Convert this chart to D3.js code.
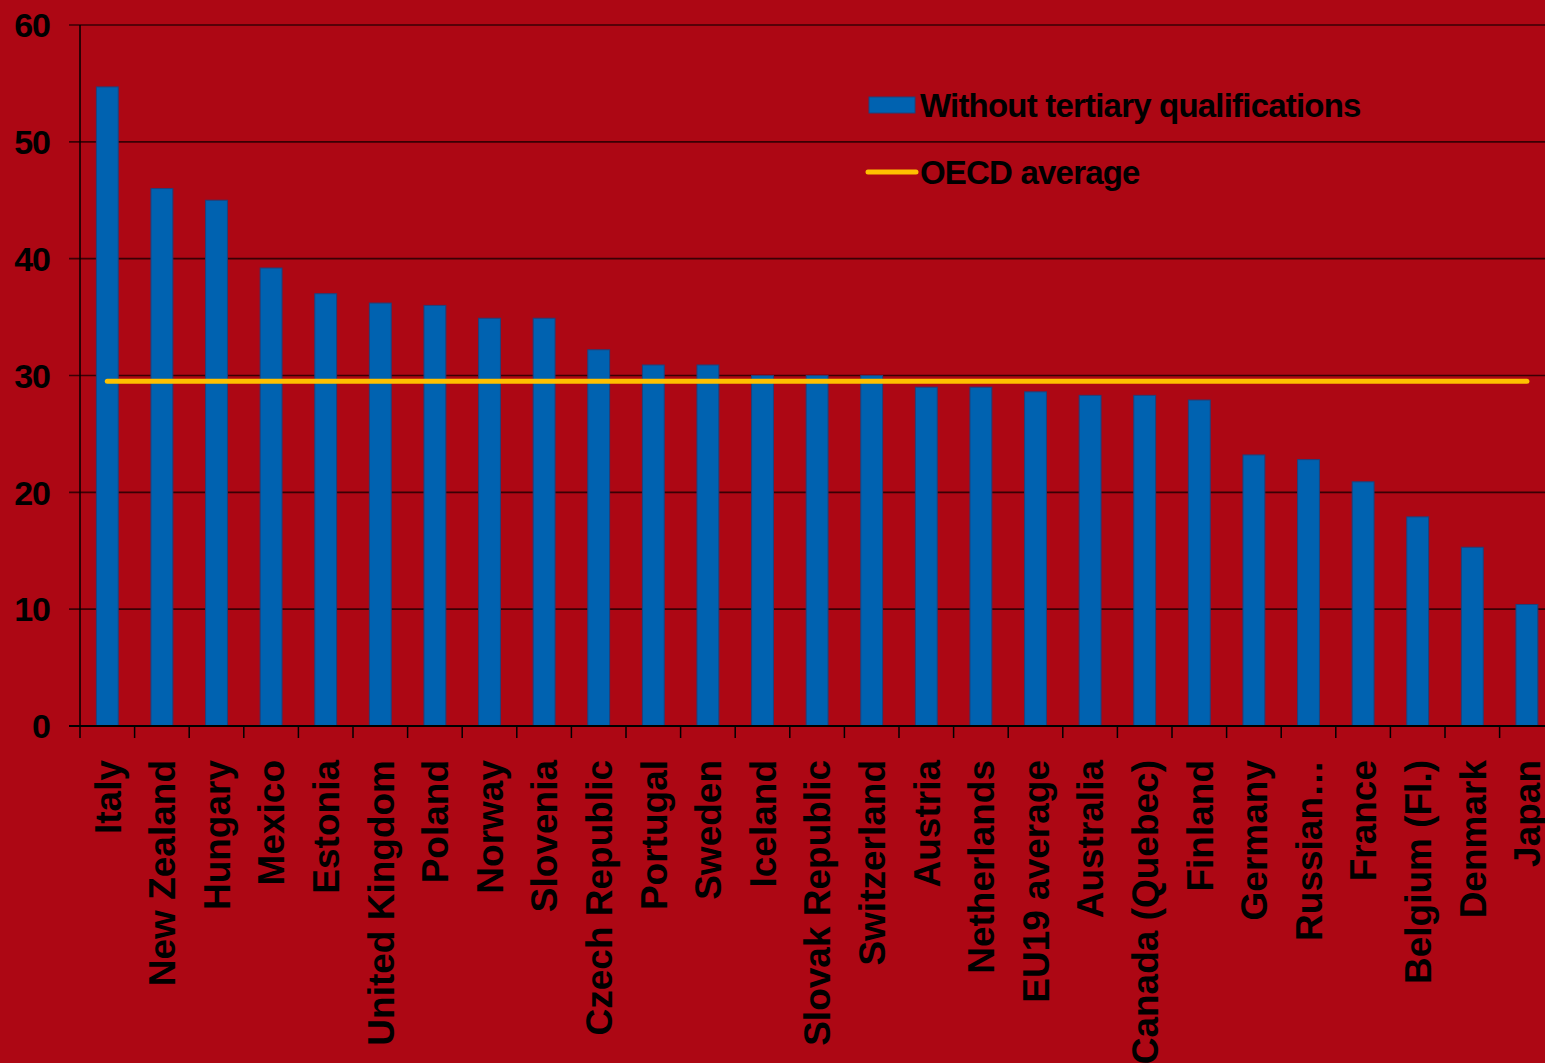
<!DOCTYPE html>
<html>
<head>
<meta charset="utf-8">
<script src="https://cdn.jsdelivr.net/npm/d3@7"></script>
<style>
  html, body { margin: 0; padding: 0; background: #ad0714; overflow: hidden; }
  svg { display: block; font-family: "Liberation Sans", Arial, sans-serif; font-weight: bold; }
</style>
</head>
<body>
<svg width="1545" height="1063"></svg>
<script>
const width = 1545, height = 1063;

// Data
const countries = ["Italy", "New Zealand", "Hungary", "Mexico", "Estonia", "United Kingdom", "Poland",
  "Norway", "Slovenia", "Czech Republic", "Portugal", "Sweden", "Iceland", "Slovak Republic",
  "Switzerland", "Austria", "Netherlands", "EU19 average", "Australia", "Canada (Quebec)", "Finland",
  "Germany", "Russian…", "France", "Belgium (Fl.)", "Denmark", "Japan"];
const withoutTertiary = [54.7, 46.0, 45.0, 39.2, 37.0, 36.2, 36.0, 34.9, 34.9, 32.2, 30.9, 30.9, 30.0,
  30.0, 30.0, 29.0, 29.0, 28.6, 28.3, 28.3, 27.9, 23.2, 22.8, 20.9, 17.9, 15.3, 10.4];
const oecdAverage = 29.5;
const yTicks = [0, 10, 20, 30, 40, 50, 60];
const seriesNames = ["Without tertiary qualifications", "OECD average"];

const margin = { left: 80, top: 25, bottom: 726 };
const svg = d3.select("svg").attr("viewBox", [0, 0, width, height]);

svg.append("rect").attr("width", width).attr("height", height).attr("fill", "#ad0714");

const x = d3.scaleBand()
  .domain(countries)
  .range([margin.left, margin.left + 27 * 54.6])
  .paddingInner(0.6)
  .paddingOuter(0.3);

const y = d3.scaleLinear().domain([0, 60]).range([margin.bottom, margin.top]);

// gridlines + y tick labels
svg.append("g").selectAll("line")
  .data(yTicks.filter(d => d > 0))
  .join("line")
  .attr("x1", 69).attr("x2", width)
  .attr("y1", d => y(d)).attr("y2", d => y(d))
  .attr("stroke", "#3a0004").attr("stroke-width", 1.6);

svg.append("g").selectAll("text")
  .data(yTicks)
  .join("text")
  .attr("x", 50)
  .attr("y", d => y(d))
  .attr("dy", "0.36em")
  .attr("text-anchor", "end")
  .attr("font-size", 34)
  .attr("letter-spacing", -1)
  .attr("fill", "#000")
  .text(d => d);

// bars
svg.append("g").selectAll("rect")
  .data(countries)
  .join("rect")
  .attr("x", d => x(d))
  .attr("width", x.bandwidth())
  .attr("y", (d, i) => y(withoutTertiary[i]))
  .attr("height", (d, i) => y(0) - y(withoutTertiary[i]))
  .attr("fill", "#0062b0")
  .attr("stroke", "#22407a")
  .attr("stroke-width", 1);

// axes
const gap = (x.step() - x.bandwidth()) / 2;
svg.append("line")
  .attr("x1", margin.left).attr("x2", margin.left)
  .attr("y1", margin.top).attr("y2", margin.bottom)
  .attr("stroke", "#000").attr("stroke-width", 1.5);
svg.append("line")
  .attr("x1", 69).attr("x2", width)
  .attr("y1", y(0)).attr("y2", y(0))
  .attr("stroke", "#000").attr("stroke-width", 2);
svg.append("g").selectAll("line")
  .data(countries)
  .join("line")
  .attr("x1", d => x(d) - gap).attr("x2", d => x(d) - gap)
  .attr("y1", y(0)).attr("y2", y(0) + 12)
  .attr("stroke", "#000").attr("stroke-width", 1.5);

// x labels
svg.append("g").selectAll("text")
  .data(countries)
  .join("text")
  .attr("transform", d => `translate(${x(d) + x.bandwidth() / 2},760) rotate(-90)`)
  .attr("dy", "0.36em")
  .attr("text-anchor", "end")
  .attr("font-size", 37)
  .attr("fill", "#000")
  .text(d => d);

// OECD average line
svg.append("line")
  .attr("x1", x(countries[0]) + x.bandwidth() / 2)
  .attr("x2", x(countries[countries.length - 1]) + x.bandwidth() / 2)
  .attr("y1", y(oecdAverage)).attr("y2", y(oecdAverage))
  .attr("stroke", "#ffc000").attr("stroke-width", 5).attr("stroke-linecap", "round");

// legend
const legend = svg.append("g");
legend.append("rect")
  .attr("x", 869).attr("y", 97).attr("width", 46).attr("height", 16)
  .attr("fill", "#0062b0").attr("stroke", "#22407a").attr("stroke-width", 1);
legend.append("line")
  .attr("x1", 868).attr("x2", 916).attr("y1", 172).attr("y2", 172)
  .attr("stroke", "#ffc000").attr("stroke-width", 5).attr("stroke-linecap", "round");
legend.selectAll("text")
  .data(seriesNames)
  .join("text")
  .attr("x", 920)
  .attr("y", (d, i) => i === 0 ? 117 : 184)
  .attr("font-size", 33)
  .attr("letter-spacing", -0.8)
  .attr("fill", "#000")
  .text(d => d);
</script>
</body>
</html>
